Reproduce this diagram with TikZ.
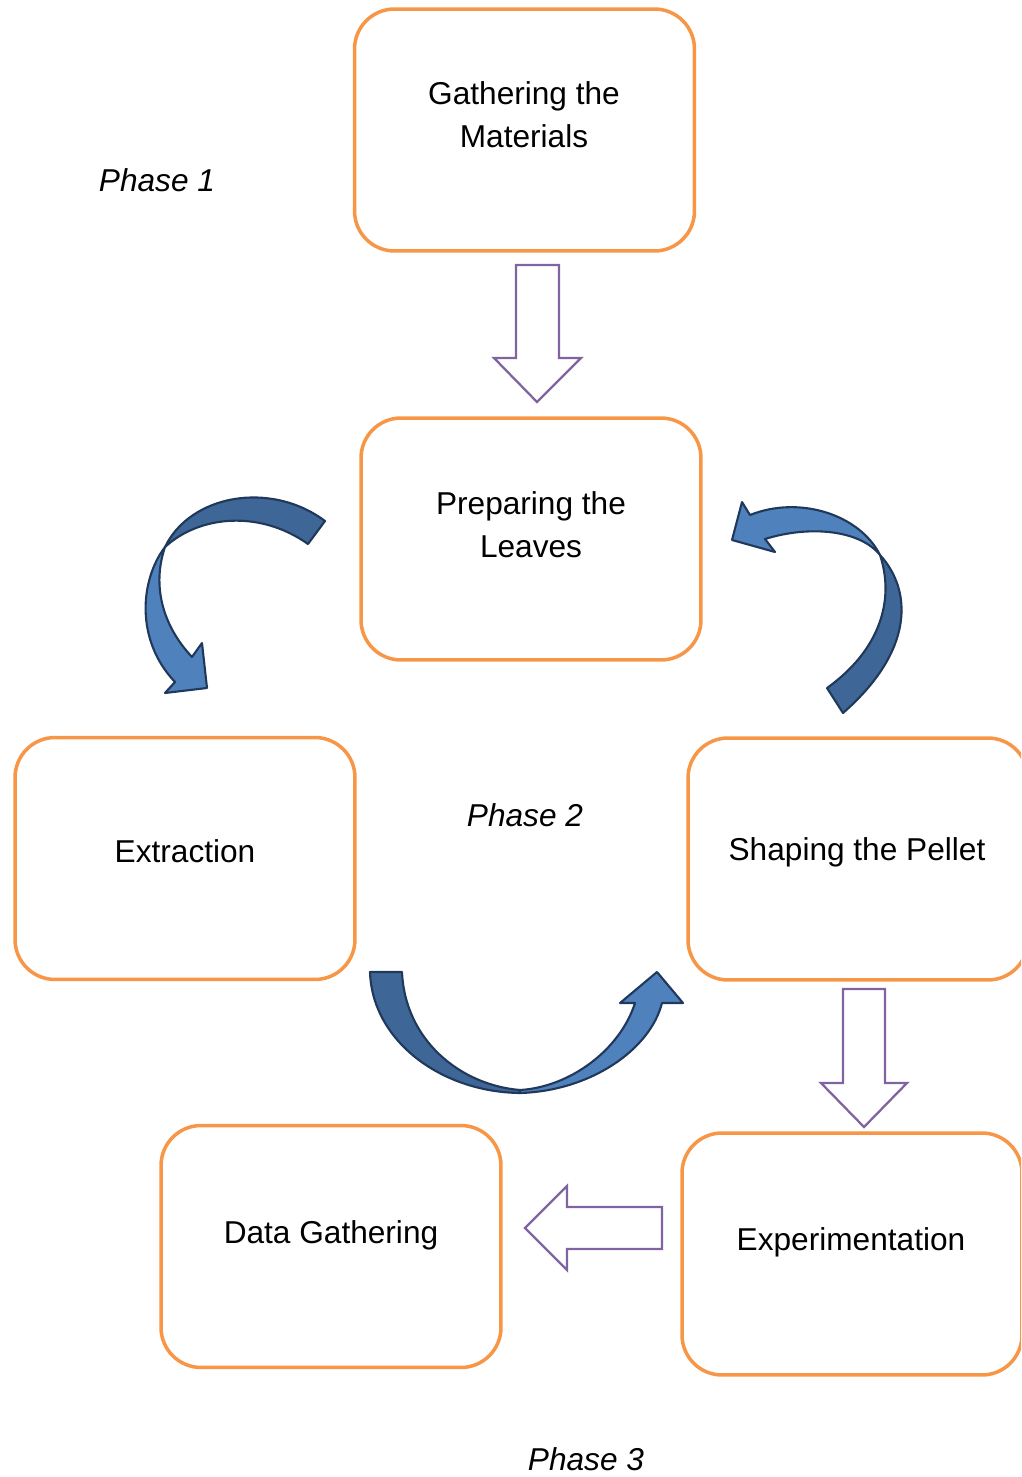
\documentclass[tikz,border=0pt]{standalone}
\usepackage{fontspec}
\setmainfont{Liberation Sans}
\definecolor{boxorange}{RGB}{247,150,70}
\definecolor{arrowpurple}{RGB}{128,100,162}
\definecolor{bendlight}{RGB}{79,129,189}
\definecolor{benddark}{RGB}{62,102,150}
\definecolor{bendline}{RGB}{32,56,90}

\tikzset{
  stagebox/.style={draw=boxorange, line width=2pt, rounded corners=0.8cm,
    minimum width=6.8cm, minimum height=4.84cm},
  stagetext/.style={align=center, font=\fontsize{18}{24.5}\selectfont},
  phase/.style={font=\fontsize{18}{22}\selectfont\itshape},
  blockarrow/.style={draw=arrowpurple, line width=1.3pt, fill=white},
  bendfront/.style={fill=bendlight, draw=bendline, line width=1.2pt, line join=round},
  bendback/.style={fill=benddark, draw=bendline, line width=1.2pt, line join=round}
}

\begin{document}
\begin{tikzpicture}[x=0.02cm, y=-0.02cm]
  \useasboundingbox (0,0) rectangle (1021,1477);
  \clip (0,0) rectangle (1021,1477);

  % stages
  \node [stagebox] (gather) at (524.5,130) {};
  \node [stagebox] (prep) at (531,539) {};
  \node [stagebox] (extract) at (185,858.5) {};
  \node [stagebox] (shape) at (858,859) {};
  \node [stagebox] (data) at (331,1246.5) {};
  \node [stagebox] (exper) at (852,1254) {};

  \node [stagetext] (gather-t) at (524,115) {Gathering the\\Materials};
  \node [stagetext] (prep-t) at (531,525) {Preparing the\\Leaves};
  \node [stagetext] (extract-t) at (185,851) {Extraction};
  \node [stagetext] (shape-t) at (857,852) {Shaping the Pellet};
  \node [stagetext] (data-t) at (331,1235) {Data Gathering};
  \node [stagetext] (exper-t) at (851,1242) {Experimentation};

  % phases
  \node [phase] (ph1) at (157,180) {Phase 1};
  \node [phase] (ph2) at (525,815) {Phase 2};
  \node [phase] (ph3) at (586,1459) {Phase 3};

  % block arrows
  \draw [blockarrow] (516,265) -- (559,265) -- (559,358) -- (581,358) -- (537,402)
    -- (494,358) -- (516,358) -- cycle;
  \draw [blockarrow] (843,989) -- (885,989) -- (885,1083) -- (907,1083) -- (864,1127)
    -- (821,1083) -- (843,1083) -- cycle;
  \draw [blockarrow] (662,1207) -- (567,1207) -- (567,1186) -- (525,1228) -- (567,1270)
    -- (567,1249) -- (662,1249) -- cycle;

  % curved arrows
  \draw [bendback] (165,547) .. controls (190,495) and (270,480) .. (325,521) -- (308,544)
    .. controls (260,510) and (200,515) .. cycle;
  \draw [bendfront] (165,547) .. controls (140,580) and (135,640) .. (175,682) -- (165,693)
    -- (207,688) -- (202,643) -- (192,657) .. controls (162,625) and (152,585) .. cycle;

  \draw [bendback] (880,555) .. controls (912,590) and (915,650) .. (843,713) -- (827,688)
    .. controls (880,650) and (895,600) .. cycle;
  \draw [bendfront] (880,555) .. controls (860,515) and (800,495) .. (750,515) -- (742,502)
    -- (732,540) -- (775,552) -- (765,539) .. controls (810,525) and (860,530) .. cycle;

  \draw [bendback] (370,972) -- (402,972) .. controls (405,1040) and (460,1085) .. (520,1090)
    -- (520,1093) .. controls (440,1092) and (372,1040) .. cycle;
  \draw [bendfront] (520,1093) .. controls (590,1091) and (650,1050) .. (662,1003) -- (683,1003)
    -- (657,972) -- (620,1003) -- (635,1003) .. controls (620,1050) and (570,1087) .. (520,1090)
    -- cycle;
\end{tikzpicture}
\end{document}
